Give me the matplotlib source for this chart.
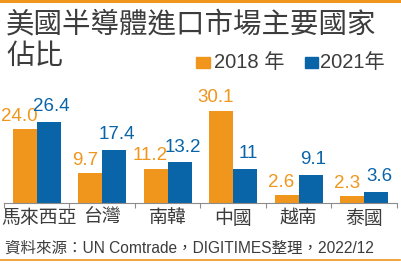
import numpy as np
import matplotlib.pyplot as plt
import matplotlib.transforms as mtransforms
from matplotlib.patches import Rectangle
from matplotlib.lines import Line2D

plt.rcParams['font.family'] = ['Liberation Sans', 'Noto Sans CJK TC']

# data, percent share
countries = ['馬來西亞', '台灣', '南韓', '中國', '越南', '泰國']
share_2018 = [24.0, 9.7, 11.2, 30.1, 2.6, 2.3]
share_2021 = [26.4, 17.4, 13.2, 11, 9.1, 3.6]
labels_2018 = ['24.0', '9.7', '11.2', '30.1', '2.6', '2.3']
labels_2021 = ['26.4', '17.4', '13.2', '11', '9.1', '3.6']

orange = '#F0961C'
blue = '#0A64A8'
text_gray = '#3c3c3c'

W, H = 402, 265
fig = plt.figure(figsize=(W / 100, H / 100), dpi=100)

# axes placed in pixel terms
ax = fig.add_axes([4 / W, (H - 203) / H, 393 / W, 122.8 / H])
x = np.arange(len(countries))
bw = 0.366
ax.bar(x - bw / 2, share_2018, bw, color=orange, linewidth=0)
ax.bar(x + bw / 2, share_2021, bw, color=blue, linewidth=0)

for xi, v, s in zip(x, share_2018, labels_2018):
    ax.annotate(s, (xi - bw / 2, v), xytext=(-4, 3), textcoords='offset points',
                ha='center', va='bottom', color=orange, fontsize=13.5)
for xi, v, s in zip(x, share_2021, labels_2021):
    ax.annotate(s, (xi + bw / 2, v), xytext=(2, 5), textcoords='offset points',
                ha='center', va='bottom', color=blue, fontsize=13.5)

ax.set_xlim(-0.5, len(countries) - 0.5)
ax.set_ylim(0, 40)
for side in ['top', 'right', 'left']:
    ax.spines[side].set_visible(False)
ax.spines['bottom'].set_color('#8c8c8c')
ax.spines['bottom'].set_linewidth(0.8)
ax.set_yticks([])
ax.set_xticks(x)
ax.set_xticklabels(countries, fontsize=13.6, color=text_gray)
ax.tick_params(axis='x', which='major', length=0, pad=5)
ax.set_xticks(np.arange(len(countries) + 1) - 0.5, minor=True)
ax.tick_params(axis='x', which='minor', length=3.5, width=0.8, color='#8c8c8c')

# nudge the first label so it stays inside the figure
first = ax.get_xticklabels()[0]
first.set_transform(first.get_transform() +
                    mtransforms.ScaledTranslation(2 / 100, 0, fig.dpi_scale_trans))

# title
fig.text(6 / W, 1 - 25 / H, '美國半導體進口市場主要國家', fontsize=20.5, color=text_gray,
         va='center', ha='left', family=['Noto Sans CJK TC'])
fig.text(6 / W, 1 - 56 / H, '佔比', fontsize=20.5, color=text_gray,
         va='center', ha='left', family=['Noto Sans CJK TC'])

# legend
fig.patches.append(Rectangle((196 / W, 1 - 68 / H), 14 / W, 11 / H, color=orange,
                             transform=fig.transFigure, figure=fig))
fig.text(214 / W, 1 - 62 / H, '2018 年', fontsize=14.5, color=text_gray, va='center')
fig.patches.append(Rectangle((305 / W, 1 - 68 / H), 13 / W, 11 / H, color=blue,
                             transform=fig.transFigure, figure=fig))
fig.text(320 / W, 1 - 62 / H, '2021年', fontsize=14.5, color=text_gray, va='center')

# source
fig.text(5 / W, 1 - 248 / H, '資料來源：UN Comtrade，DIGITIMES整理，2022/12',
         fontsize=11.2, color=text_gray, va='center')

# orange rules top and bottom
fig.add_artist(Line2D([0, 400 / W], [1 - 1 / H, 1 - 1 / H], color=orange, lw=2.2,
                      transform=fig.transFigure))
fig.add_artist(Line2D([0, 400 / W], [1 - 260 / H, 1 - 260 / H], color=orange, lw=1.2,
                      transform=fig.transFigure))

fig.savefig('out.png', dpi=100)
